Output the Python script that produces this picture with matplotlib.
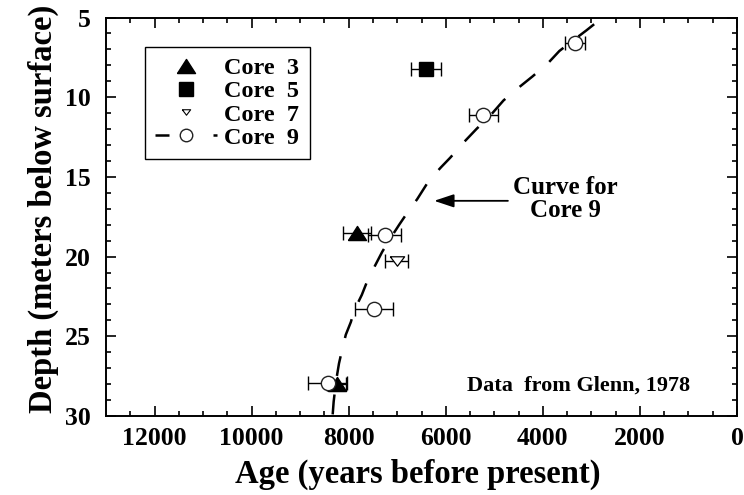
import numpy as np
import matplotlib
matplotlib.use('Agg')
import matplotlib.pyplot as plt
from matplotlib.lines import Line2D

plt.rcParams['font.family'] = 'Liberation Serif'
plt.rcParams['font.weight'] = 'bold'
plt.rcParams['axes.labelweight'] = 'bold'

# Radiocarbon ages (years BP) and depths (m) per core
core3_age = [7830, 8250]
core3_depth = [18.55, 28.0]
core3_err = [290, 200]

core5_age = [6400]
core5_depth = [8.2]
core5_err = [310]

core7_age = [7010]
core7_depth = [20.3]
core7_err = [240]

core9_age = [3340, 5230, 7260, 7480, 8430]
core9_depth = [6.6, 11.1, 18.65, 23.3, 27.9]
core9_err = [200, 300, 340, 400, 400]

# hand-drawn age/depth curve for core 9
curve_age = [8330, 8310, 8260, 8200, 8140, 8060, 7955, 7890, 7730, 7600, 7480,
             7310, 7130, 6960, 6760, 6590, 6340, 6100, 5910, 5620, 5370, 5040,
             4810, 4500, 4215, 3905, 3660, 3490, 3100, 2770]
curve_depth = [29.9, 29.1, 27.8, 26.7, 25.9, 24.9, 24.1, 23.4, 22.4, 21.4, 20.7,
               19.7, 18.8, 18.0, 17.1, 16.4, 15.2, 14.4, 13.8, 12.8, 12.0, 11.0,
               10.2, 9.4, 8.7, 7.9, 7.1, 6.7, 5.8, 5.0]

up_tri = [(-1, -0.78), (1, -0.78), (0, 0.78), (-1, -0.78)]
down_tri = [(-1, 0.66), (1, 0.66), (0, -0.66), (-1, 0.66)]

fig = plt.figure(figsize=(7.44, 4.95), dpi=100)
ax = fig.add_axes([0.1425, 0.1596, 0.8481, 0.805])

eb = dict(fmt='none', ecolor='black', elinewidth=1, capsize=5, capthick=1, zorder=2)
ax.errorbar(core3_age, core3_depth, xerr=core3_err, **eb)
ax.errorbar(core5_age, core5_depth, xerr=core5_err, **eb)
ax.errorbar(core7_age, core7_depth, xerr=core7_err, **eb)
ax.errorbar(core9_age, core9_depth, xerr=core9_err, **eb)

ax.plot(core3_age, core3_depth, ls='none', marker=up_tri, ms=13, color='black', zorder=3)
ax.plot(core5_age, core5_depth, ls='none', marker='s', ms=10, color='black', zorder=3)
ax.plot(core7_age, core7_depth, ls='none', marker=down_tri, ms=10.3, mfc='white',
        mec='black', mew=0.9, zorder=3)
ax.plot(core9_age, core9_depth, ls='none', marker='o', ms=10.3, mfc='white',
        mec='#222222', mew=1.0, zorder=4)
ax.plot(curve_age, curve_depth, color='black', lw=1.8, dashes=(8, 7.5), zorder=5)

ax.set_xlim(13000, 0)
ax.set_ylim(30, 5)
ax.set_xticks([12000, 10000, 8000, 6000, 4000, 2000, 0])
ax.set_xticks(np.arange(500, 13000, 500), minor=True)
ax.set_yticks([5, 10, 15, 20, 25, 30])
ax.set_yticks(np.arange(5, 31, 1), minor=True)
ax.tick_params(which='both', direction='in', top=True, right=True, width=1.2)
ax.tick_params(which='major', length=7.2, labelsize=18.5)
ax.tick_params(which='minor', length=3.6)
ax.tick_params(axis='x', pad=8)
ax.tick_params(axis='y', pad=11)
for s in ax.spines.values():
    s.set_linewidth(1.4)

ax.set_xlabel('Age (years before present)', fontsize=23.5, fontweight='bold')
ax.set_ylabel('Depth (meters below surface)', fontsize=23.5, fontweight='bold')
ax.xaxis.set_label_coords(0.494, -0.108)
ax.yaxis.set_label_coords(-0.075, 0.52)

handles = [
    Line2D([], [], ls='none', marker=up_tri, ms=13, color='black'),
    Line2D([], [], ls='none', marker='s', ms=10, color='black'),
    Line2D([], [], ls='none', marker=down_tri, ms=6, mfc='white', mec='black', mew=0.8),
    Line2D([], [], color='black', lw=1.8, dashes=(5.6, 17.6), marker='o', ms=9,
           mfc='white', mec='#222222', mew=1.0),
]
labels = ['Core  3', 'Core  5', 'Core  7', 'Core  9']
leg = ax.legend(handles, labels, loc='upper left', bbox_to_anchor=(0.0618, 0.926),
                borderaxespad=0, fontsize=17.5, handlelength=2.55, handletextpad=0.3,
                labelspacing=0.05, borderpad=0.42, fancybox=False, framealpha=1)
leg.get_frame().set_edgecolor('black')
leg.get_frame().set_linewidth(1.0)

ax.annotate('', xy=(6240, 16.5), xytext=(4720, 16.5),
            arrowprops=dict(arrowstyle='-|>,head_length=1.2,head_width=0.4',
                            lw=1.3, color='black', shrinkA=0, shrinkB=0))
ax.text(3530, 16.4, 'Curve for\nCore 9', ha='center', va='center', fontsize=18,
        linespacing=1.0)
ax.text(0.9255, 0.065, 'Data  from Glenn, 1978', transform=ax.transAxes,
        ha='right', va='baseline', fontsize=16)

fig.savefig('out.png', dpi=100)
